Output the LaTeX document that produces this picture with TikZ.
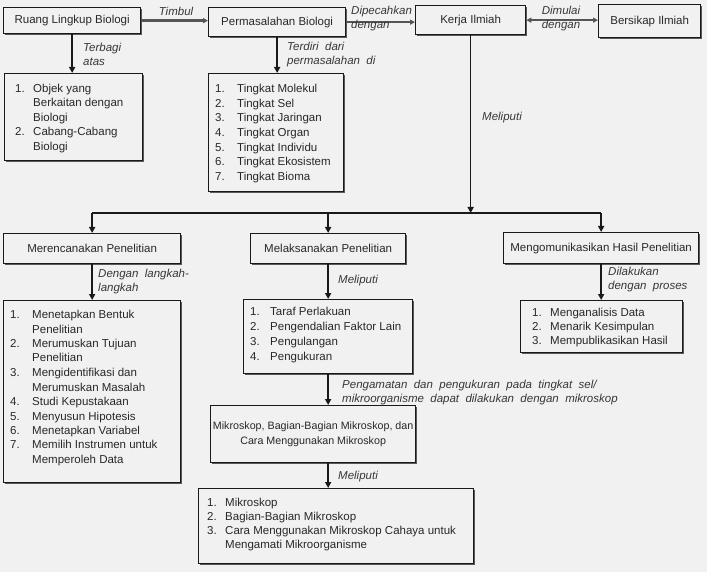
\documentclass[tikz,border=0pt]{standalone}
\usepackage{fontspec}
\setmainfont{Liberation Sans}
\usetikzlibrary{arrows.meta,shadows,calc}
\definecolor{bg}{RGB}{241,241,241}
\definecolor{ink}{RGB}{40,40,40}
\definecolor{lblc}{RGB}{55,55,55}
\definecolor{garr}{RGB}{85,85,85}
\begin{document}
\begin{tikzpicture}[x=1pt,y=-1pt,
  box/.style={draw=black!90, line width=1.3pt, fill=bg, inner sep=0pt, anchor=north west,
    drop shadow={shadow xshift=1pt,shadow yshift=-1pt,fill=black!65,opacity=1},
    font=\fontsize{11.5}{14.5}\selectfont, text=ink, align=center},
  lst/.style={anchor=base west, inner sep=0pt, font=\fontsize{11.5}{14.5}\selectfont, text=ink},
  lbl/.style={inner sep=0pt, font=\fontsize{11.5}{14}\selectfont\itshape, text=lblc, align=left, anchor=west},
  garrow/.style={draw=garr, line width=2.4pt, -{Triangle[length=5pt,width=5pt]}},
  gdarrow/.style={draw=garr, line width=2.4pt, {Triangle[length=5pt,width=5pt]}-{Triangle[length=5pt,width=5pt]}},
  barrow/.style={draw=black!90, line width=1.6pt, -{Triangle[length=6pt,width=6pt]}},
  bline/.style={draw=black!90, line width=1.6pt}]
\fill[bg] (0,0) rectangle (707,572);
\useasboundingbox (0,0) rectangle (707,572);

% top row
\node[box, minimum width=137pt, minimum height=26pt] (rl) at (3,7) {Ruang Lingkup Biologi};
\node[box, minimum width=137pt, minimum height=29pt] (pb) at (208,7) {Permasalahan Biologi};
\node[box, minimum width=110pt, minimum height=29pt] (ki) at (415,5) {Kerja Ilmiah};
\node[box, minimum width=102pt, minimum height=33pt] (bi) at (598,4) {Bersikap Ilmiah};

\draw[garrow] (rl.east) -- (rl.east -| pb.west);
\draw[garrow] (pb.east) -- (pb.east -| ki.west);
\draw[gdarrow] (ki.east) -- (ki.east -| bi.west);

\node[lbl, anchor=center] (t1) at (176,11) {Timbul};
\node[lbl] (t2) at (351,19) {Dipecahkan\\dengan};
\node[lbl, anchor=center, align=center] (t3) at (561,19) {Dimulai\\dengan};

% lists under top row
\node[box, minimum width=138pt, minimum height=87pt] (l1) at (4,73) {};
\node[lst] (l1t) at (15,92.5) {\begin{tabular}[t]{@{}p{18pt}@{}l@{}}1.&Objek yang\\&Berkaitan dengan\\&Biologi\\2.&Cabang-Cabang\\&Biologi\end{tabular}};
\node[box, minimum width=135pt, minimum height=118pt] (l2) at (208,73) {};
\node[lst] (l2t) at (215,92.5) {\renewcommand{\arraystretch}{1.01}\begin{tabular}[t]{@{}p{22pt}@{}l@{}}1.&Tingkat Molekul\\2.&Tingkat Sel\\3.&Tingkat Jaringan\\4.&Tingkat Organ\\5.&Tingkat Individu\\6.&Tingkat Ekosistem\\7.&Tingkat Bioma\end{tabular}};

\draw[barrow] (rl.south) -- (rl.south |- l1.north);
\draw[barrow] (pb.south) -- (pb.south |- l2.north);
\node[lbl] (t4) at (83,54.5) {Terbagi\\atas};
\node[lbl] (t5) at (287,55) {Terdiri\ \ dari\\permasalahan\ \ di};

% second row
\node[box, minimum width=177pt, minimum height=30pt] (mr) at (3,233) {Merencanakan Penelitian};
\node[box, minimum width=155pt, minimum height=30pt] (ml) at (250,233) {Melaksanakan Penelitian};
\node[box, minimum width=195pt, minimum height=31pt] (mk) at (503,232) {Mengomunikasikan Hasil Penelitian};

\coordinate (j) at (ki.south |- 0,213);
\coordinate (jl) at (mr.north |- j);
\coordinate (jr) at (mk.north |- j);
\draw[bline] (jl) -- (jr);
\draw[barrow] (ki.south) -- (j);
\draw[barrow] (jl) -- (mr.north);
\draw[barrow] (ml.north |- j) -- (ml.north);
\draw[barrow] (jr) -- (mk.north);
\node[lbl] (t6) at (482,118) {Meliputi};

% lists second row
\node[box, minimum width=177pt, minimum height=182pt] (l3) at (3,300) {};
\node[lst] (l3t) at (10,318.5) {\begin{tabular}[t]{@{}p{22pt}@{}l@{}}1.&Menetapkan Bentuk\\&Penelitian\\2.&Merumuskan Tujuan\\&Penelitian\\3.&Mengidentifikasi dan\\&Merumuskan Masalah\\4.&Studi Kepustakaan\\5.&Menyusun Hipotesis\\6.&Menetapkan Variabel\\7.&Memilih Instrumen untuk\\&Memperoleh Data\end{tabular}};
\node[box, minimum width=169pt, minimum height=74pt] (l4) at (243,299) {};
\node[lst] (l4t) at (250,315.5) {\renewcommand{\arraystretch}{1.034}\begin{tabular}[t]{@{}p{20pt}@{}l@{}}1.&Taraf Perlakuan\\2.&Pengendalian Faktor Lain\\3.&Pengulangan\\4.&Pengukuran\end{tabular}};
\node[box, minimum width=162pt, minimum height=52pt] (l5) at (520,300) {};
\node[lst] (l5t) at (532,316.5) {\renewcommand{\arraystretch}{0.966}\begin{tabular}[t]{@{}p{18pt}@{}l@{}}1.&Menganalisis Data\\2.&Menarik Kesimpulan\\3.&Mempublikasikan Hasil\end{tabular}};

\draw[barrow] (mr.south) -- (mr.south |- l3.north);
\draw[barrow] (ml.south) -- (ml.south |- l4.north);
\draw[barrow] (mk.south) -- (mk.south |- l5.north);
\node[lbl] (t7) at (98,281.5) {Dengan\ \ langkah-\\langkah};
\node[lbl] (t8) at (338,281) {Meliputi};
\node[lbl] (t9) at (608,279.5) {Dilakukan\\dengan\ \ proses};

% microscope
\node[box, minimum width=205pt, minimum height=57pt, font=\fontsize{10.7}{15}\selectfont] (mb) at (210,405) {Mikroskop, Bagian-Bagian Mikroskop, dan\\Cara Menggunakan Mikroskop};
\draw[barrow] (l4.south) -- (l4.south |- mb.north);
\node[lbl] (t10) at (342,392.5) {Pengamatan\ \ dan\ \ pengukuran\ \ pada\ \ tingkat\ \ sel/\\mikroorganisme\ \ dapat\ \ dilakukan\ \ dengan\ \ mikroskop};

\node[box, minimum width=275pt, minimum height=75pt] (l6) at (198,488) {};
\node[lst] (l6t) at (207,506.5) {\renewcommand{\arraystretch}{0.966}\begin{tabular}[t]{@{}p{18pt}@{}l@{}}1.&Mikroskop\\2.&Bagian-Bagian Mikroskop\\3.&Cara Menggunakan Mikroskop Cahaya untuk\\&Mengamati Mikroorganisme\end{tabular}};
\draw[barrow] (mb.south -| l4.south) -- (l6.north -| l4.south);
\node[lbl] (t11) at (338,477) {Meliputi};
\end{tikzpicture}
\end{document}
